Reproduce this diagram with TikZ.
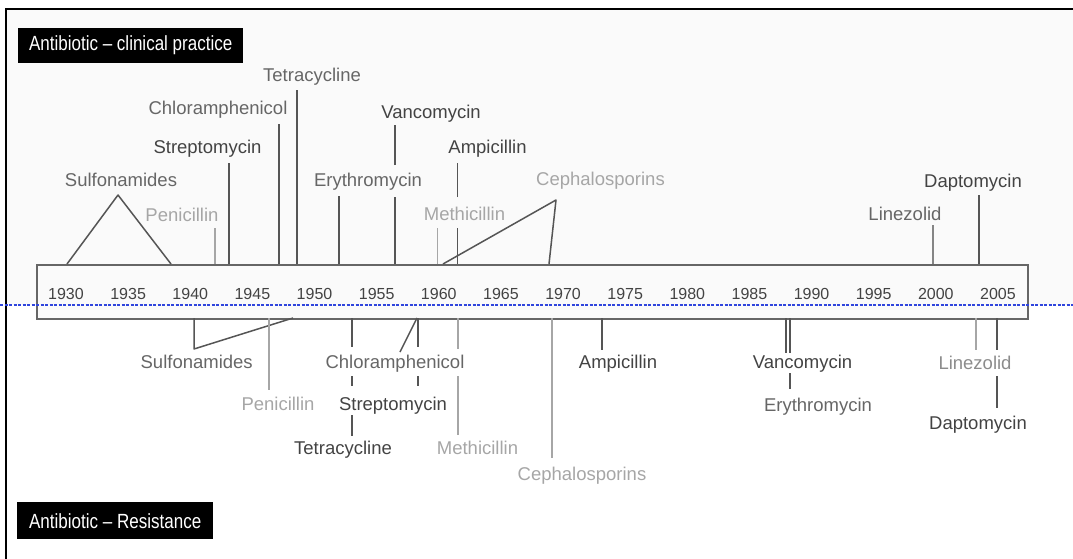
\documentclass[tikz,border=0pt]{standalone}
\usepackage{fontspec}
\setmainfont{Liberation Sans}
\definecolor{dk}{HTML}{434343}
\definecolor{md}{HTML}{666666}
\definecolor{lt}{HTML}{A6A6A6}
\definecolor{ln}{HTML}{555555}
\definecolor{bg}{HTML}{FAFAFA}
\definecolor{dashblue}{HTML}{2F45DD}
\tikzset{
  lbl/.style={font=\fontsize{18.5}{20}\selectfont, anchor=base, inner sep=0pt},
  yr/.style={font=\fontsize{16}{18}\selectfont, anchor=base, inner sep=0pt, text=dk},
  hdr/.style={fill=black, text=white, anchor=north west, inner sep=0pt,
              font=\fontsize{20.5}{22}\selectfont},
  mk/.style={draw=ln, line width=1.5pt},
  mklt/.style={draw=lt, line width=1.3pt},
  mkmd/.style={draw=md!80, line width=1.3pt},
}
\begin{document}
\begin{tikzpicture}[x=1pt, y=-1pt]
\useasboundingbox (0,0) rectangle (1073,559);
% background
\fill[bg] (6,9) rectangle (1073,305);
% frame
\draw[black, line width=2.5pt] (1073,9) -- (6,9) -- (6,559);
% headers
\node[hdr, minimum width=225, minimum height=35] (hdrA) at (18,28) {\scalebox{0.83}[1]{Antibiotic – clinical practice}};
\node[hdr, minimum width=196, minimum height=37] (hdrB) at (17,502) {\scalebox{0.83}[1]{Antibiotic – Resistance}};
% axis box
\node[draw=md, line width=1.6pt, fill=bg, minimum width=991, minimum height=54, inner sep=0pt, anchor=north west] (axis) at (36,264) {};
% years
\foreach \yv [count=\i from 0] in {1930,1935,1940,1945,1950,1955,1960,1965,1970,1975,1980,1985,1990,1995,2000,2005}{
  \node[yr] (y\yv) at ({66+\i*62.13},299.5) {\yv};
}
% dashed blue line
\draw[dashblue, line width=1.3pt, dash pattern=on 3pt off 1.5pt] (0,305) -- (1073,305);

% ---------------- top: clinical practice ----------------
\node[lbl, text=md] (tSul) at (121,186.5) {Sulfonamides};
\node[lbl, text=lt] (tPen) at (182,221.5) {Penicillin};
\node[lbl, text=dk] (tStr) at (207.5,153.5) {Streptomycin};
\node[lbl, text=md] (tChl) at (218,114.5) {Chloramphenicol};
\node[lbl, text=md] (tTet) at (312,81.5) {Tetracycline};
\node[lbl, text=md] (tEry) at (368,186.5) {Erythromycin};
\node[lbl, text=dk] (tVan) at (431,118.5) {Vancomycin};
\node[lbl, text=dk] (tAmp) at (487.5,153.5) {Ampicillin};
\node[lbl, text=lt] (tMet) at (464.5,220.5) {Methicillin};
\node[lbl, text=lt] (tCep) at (600.5,185.5) {Cephalosporins};
\node[lbl, text=md] (tLin) at (905,220.5) {Linezolid};
\node[lbl, text=dk] (tDap) at (973,187.5) {Daptomycin};

\coordinate (aSulL) at (67,264);  \coordinate (aSulA) at (118,195); \coordinate (aSulR) at (171,264);
\coordinate (aPen) at (215,264);
\coordinate (aStr) at (229,264);
\coordinate (aChl) at (279,264);
\coordinate (aTet) at (297,264);
\coordinate (aEry) at (339,264);
\coordinate (aVan) at (395,264);
\coordinate (aMet) at (437.7,264);
\coordinate (aAmp) at (457.7,264);
\coordinate (aCepL) at (443,264); \coordinate (aCepA) at (556,200); \coordinate (aCepR) at (549,264);
\coordinate (aLin) at (933,264);
\coordinate (aDap) at (979,264);

\draw[mk, line join=round] (aSulL) -- (aSulA) -- (aSulR);
\draw[mklt] (aPen) -- ++(0,-36);
\draw[mk] (aStr) -- ++(0,-101);
\draw[mk] (aChl) -- ++(0,-140);
\draw[mk] (aTet) -- ++(0,-174);
\draw[mk] (aEry) -- ++(0,-68);
\draw[mk] (aVan) -- ++(0,-67) ++(0,-32) -- ++(0,-40);
\draw[mklt] (aMet) -- ++(0,-36);
\draw[mk] (aAmp) -- ++(0,-36) ++(0,-31) -- ++(0,-34);
\draw[mk, line join=round] (aCepL) -- (aCepA) -- (aCepR);
\draw[mkmd] (aLin) -- ++(0,-39);
\draw[mk] (aDap) -- ++(0,-69);

% ---------------- bottom: resistance ----------------
\node[lbl, text=md] (bSul) at (196.7,368.5) {Sulfonamides};
\node[lbl, text=lt] (bPen) at (278,410.5) {Penicillin};
\node[lbl, text=md] (bChl) at (395,368.5) {Chloramphenicol};
\node[lbl, text=dk] (bStr) at (393,410.5) {Streptomycin};
\node[lbl, text=dk] (bTet) at (343,454.5) {Tetracycline};
\node[lbl, text=lt] (bMet) at (477.5,454.5) {Methicillin};
\node[lbl, text=lt] (bCep) at (582,480.5) {Cephalosporins};
\node[lbl, text=dk] (bAmp) at (618,368.5) {Ampicillin};
\node[lbl, text=dk] (bVan) at (802.5,368.5) {Vancomycin};
\node[lbl, text=md] (bEry) at (818,411.5) {Erythromycin};
\node[lbl, text=md!75] (bLin) at (975,369.5) {Linezolid};
\node[lbl, text=dk] (bDap) at (978,429.5) {Daptomycin};

\coordinate (rSul) at (194,318); \coordinate (rSulB) at (194,349); \coordinate (rSulR) at (293,318);
\coordinate (rPen) at (269,318);
\coordinate (rTet) at (352,318);
\coordinate (rStr) at (418,318);
\coordinate (rChlA) at (417,318); \coordinate (rChlB) at (400,352);
\coordinate (rMet) at (458,318);
\coordinate (rCep) at (552,318);
\coordinate (rAmp) at (602,318);
\coordinate (rVan) at (786,318); \coordinate (rEry) at (790,318);
\coordinate (rLin) at (976,318);
\coordinate (rDap) at (997,318);

\draw[mk, line join=round] (rSul) -- (rSulB) -- (rSulR);
\draw[mklt] (rPen) -- ++(0,72);
\draw[mk] (rTet) -- ++(0,29) ++(0,29) -- ++(0,10) ++(0,29) -- ++(0,21);
\draw[mk] (rStr) -- ++(0,29) ++(0,29) -- ++(0,10);
\draw[mk] (rChlA) -- (rChlB);
\draw[mklt] (rMet) -- ++(0,31) ++(0,27) -- ++(0,59);
\draw[mklt] (rCep) -- ++(0,140);
\draw[mk] (rAmp) -- ++(0,32);
\draw[mk] (rVan) -- ++(0,35);
\draw[mk] (rEry) -- ++(0,35) ++(0,20) -- ++(0,16);
\draw[mklt] (rLin) -- ++(0,32);
\draw[mk] (rDap) -- ++(0,32) ++(0,26) -- ++(0,32);
\end{tikzpicture}
\end{document}
